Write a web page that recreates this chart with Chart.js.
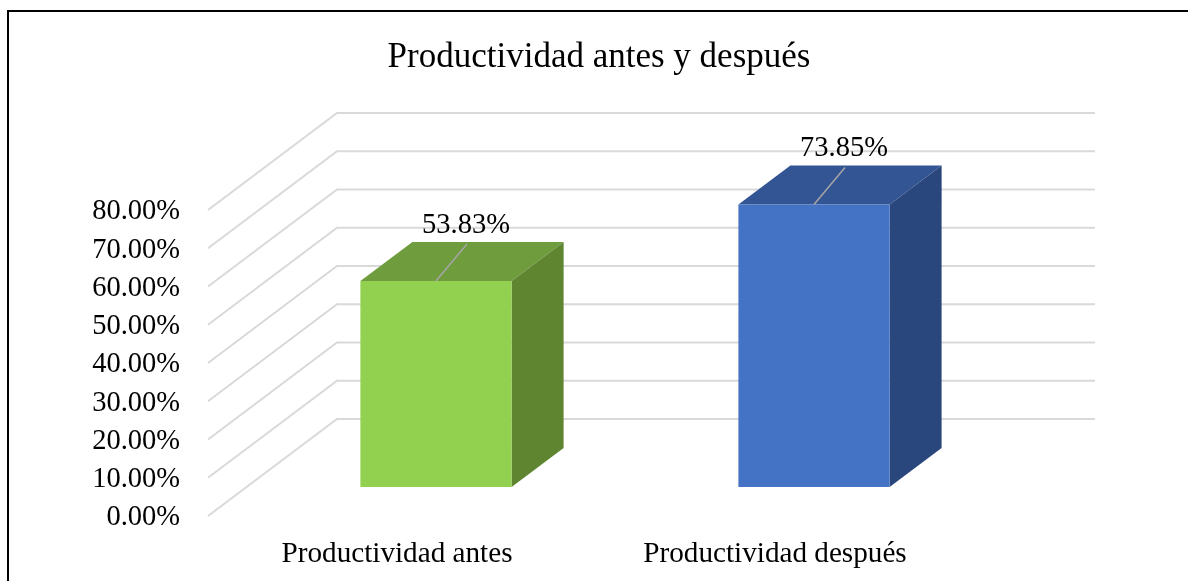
<!DOCTYPE html>
<html>
<head>
<meta charset="utf-8">
<title>Productividad antes y después</title>
<script src="https://cdn.jsdelivr.net/npm/chart.js@4"></script>
<style>
    html, body { margin: 0; padding: 0; background: #fff; overflow: hidden; }
    #frame { position: absolute; left: 7px; top: 10px; width: 1181px; height: 571px; border-left: 2px solid #000; border-top: 2px solid #000; box-sizing: border-box; }
    #chart { position: absolute; left: 10px; top: 12px; }
</style>
</head>
<body>
<div id="frame"></div>
<canvas id="chart" width="1178" height="569"></canvas>
<script>
const categories = ['Productividad antes', 'Productividad después']
const values = [53.83, 73.85]
const frontColors = ['#92d050', '#4472c4']
const topColors = ['#6f9c3d', '#335593']
const sideColors = ['#5f8530', '#2a477d']

const FONT = '"Liberation Serif", "Times New Roman", serif'

// 3D offsets: back wall from the axis plane, bar front from the axis plane, bar depth
const wallDx = 129, wallDy = -97
const barDx = 39, barDy = -29
const depthDx = 52, depthDy = -39

function poly(ctx, color, pts) {
    ctx.fillStyle = color
    ctx.beginPath()
    pts.forEach((p, i) => i ? ctx.lineTo(p[0], p[1]) : ctx.moveTo(p[0], p[1]))
    ctx.closePath()
    ctx.fill()
}

const fake3d = {
    id: 'fake3d',
    beforeDatasetsDraw(chart) {
        const ctx = chart.ctx
        const { left, right } = chart.chartArea
        const yScale = chart.scales.y

        // walls: diagonal on the side, then straight along the back
        ctx.save()
        ctx.strokeStyle = '#d9d9d9'
        ctx.lineWidth = 2
        yScale.ticks.forEach(t => {
            const y = yScale.getPixelForValue(t.value)
            ctx.beginPath()
            ctx.moveTo(left, y)
            ctx.lineTo(left + wallDx, y + wallDy)
            ctx.lineTo(right + wallDx + 2, y + wallDy)
            ctx.stroke()
        })
        ctx.restore()

        // top and right side of each bar
        chart.getDatasetMeta(0).data.forEach((bar, i) => {
            const { x, y, base, width } = bar.getProps(['x', 'y', 'base', 'width'], true)
            const l = x - width / 2 + barDx, r = x + width / 2 + barDx
            const t = y + barDy, b = base + barDy
            poly(ctx, topColors[i], [[l, t], [r, t], [r + depthDx, t + depthDy], [l + depthDx, t + depthDy]])
            poly(ctx, sideColors[i], [[r, t], [r + depthDx, t + depthDy], [r + depthDx, b + depthDy], [r, b]])
        })

        // front faces are drawn by the library, moved into the 3D position
        ctx.save()
        ctx.translate(barDx, barDy)
    },
    afterDatasetsDraw(chart) {
        const ctx = chart.ctx
        ctx.restore()

        chart.getDatasetMeta(0).data.forEach((bar, i) => {
            const { x, y } = bar.getProps(['x', 'y'], true)
            const cx = x + barDx, top = y + barDy

            // leader line
            ctx.strokeStyle = '#a6a6a6'
            ctx.lineWidth = 1.5
            ctx.beginPath()
            ctx.moveTo(cx, top)
            ctx.lineTo(cx + 31, top - 37)
            ctx.stroke()

            ctx.fillStyle = '#000'
            ctx.font = '28.5px ' + FONT
            ctx.textAlign = 'center'
            ctx.textBaseline = 'middle'
            ctx.fillText(values[i].toFixed(2) + '%', cx + 30, top - 56)
        })
    }
}

new Chart(document.getElementById('chart'), {
    type: 'bar',
    data: {
        labels: categories,
        datasets: [{
            data: values,
            backgroundColor: frontColors,
            borderWidth: 0,
            barPercentage: 0.4,
            categoryPercentage: 1
        }]
    },
    options: {
        responsive: false,
        animation: false,
        devicePixelRatio: 1,
        plugins: {
            legend: { display: false },
            tooltip: { enabled: false },
            title: {
                display: true,
                text: 'Productividad antes y después',
                color: '#000',
                font: { family: FONT, size: 35, weight: 'normal', lineHeight: 1.2 },
                padding: { top: 25, bottom: 131 }
            }
        },
        scales: {
            x: {
                afterFit: s => { s.height = 65 },
                grid: { display: false },
                border: { display: false },
                ticks: { color: '#000', padding: 13, maxRotation: 0, font: { family: FONT, size: 29.2 } }
            },
            y: {
                min: 0,
                max: 80,
                afterFit: s => { s.width = 198 },
                grid: { display: false },
                border: { display: false },
                ticks: {
                    stepSize: 10,
                    color: '#000',
                    padding: 20,
                    labelOffset: 2,
                    font: { family: FONT, size: 28.5 },
                    callback: v => v.toFixed(2) + '%'
                }
            },
            // empty axis, only keeps the space right of the plot so the title stays centred on the whole frame
            spacer: {
                position: 'right',
                afterFit: s => { s.width = 224 },
                grid: { display: false },
                border: { display: false },
                ticks: { display: false }
            }
        }
    },
    plugins: [fake3d]
})
</script>
</body>
</html>
